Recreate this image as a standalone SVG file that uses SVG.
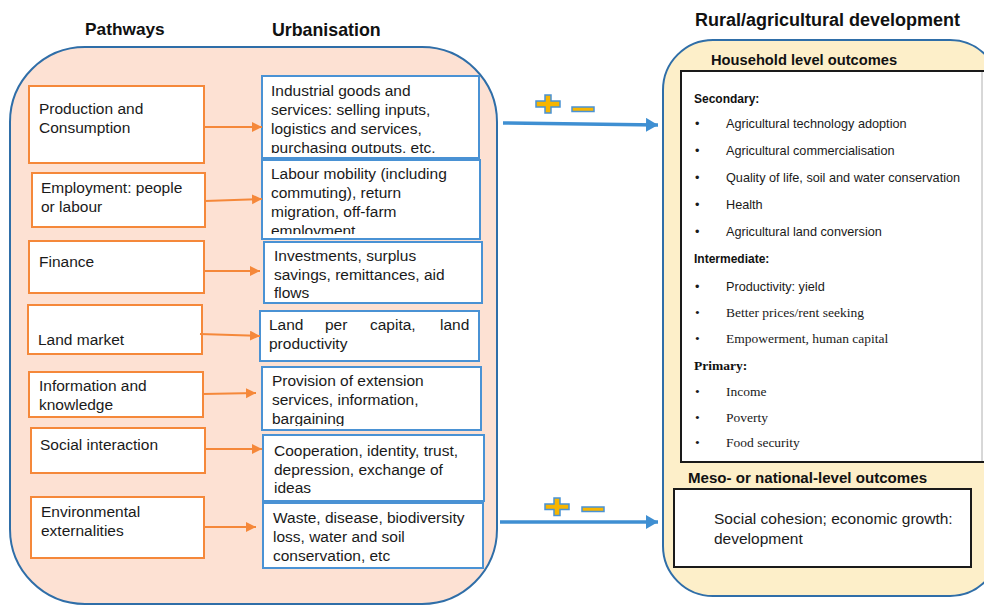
<svg xmlns="http://www.w3.org/2000/svg" width="984" height="606" viewBox="0 0 984 606">
<defs>
<style>
.hd{font-family:"Liberation Sans",Arial,sans-serif;font-weight:bold;fill:#111;}
.t{font-family:"Liberation Sans",Arial,sans-serif;font-size:15.5px;fill:#1a1a1a;}
.s{font-family:"Liberation Sans",Arial,sans-serif;font-size:12.7px;fill:#1a1a1a;}
.sb{font-family:"Liberation Sans",Arial,sans-serif;font-size:12px;font-weight:bold;fill:#111;}
.r{font-family:"Liberation Serif","Times New Roman",serif;font-size:13.5px;fill:#1a1a1a;}
.rb{font-family:"Liberation Serif","Times New Roman",serif;font-size:13.5px;font-weight:bold;fill:#111;}
.ob{fill:#fff;stroke:#f5883a;stroke-width:2;}
.bb{fill:#fff;stroke:#4a92d4;stroke-width:2;}
.oc{stroke:#f5883a;stroke-width:2;fill:none;}
.bc{stroke:#3f8fd2;stroke-width:3.5;fill:none;}
.pm{fill:#f7b500;stroke:#4a92d4;stroke-width:1.5;}
</style>
<marker id="oa" markerUnits="userSpaceOnUse" markerWidth="11" markerHeight="11" refX="10" refY="5" orient="auto">
<path d="M0,0 L10,5 L0,10 z" fill="#f5883a"/>
</marker>
<marker id="ba" markerUnits="userSpaceOnUse" markerWidth="13" markerHeight="15" refX="12" refY="7" orient="auto">
<path d="M0,0 L12,7 L0,14 z" fill="#3f8fd2"/>
</marker>
<clipPath id="c1"><rect x="263" y="77" width="215" height="76"/></clipPath>
<clipPath id="c2"><rect x="263" y="161" width="216" height="73"/></clipPath>
<clipPath id="c5"><rect x="263" y="368" width="217" height="58"/></clipPath>
</defs>

<rect width="984" height="606" fill="#fff"/>

<g id="headings">
<text class="hd" x="85" y="35" font-size="17.3px">Pathways</text>
<text class="hd" x="272" y="36" font-size="17.8px">Urbanisation</text>
<text class="hd" x="695" y="26" font-size="18px">Rural/agricultural development</text>
</g>

<g id="urban-panel">
<rect x="10" y="47" width="487" height="557" rx="75" ry="75" fill="#fde1d3" stroke="#2f6ea8" stroke-width="2"/>
</g>

<g id="rural-panel">
<rect x="663" y="40" width="337" height="556" rx="50" ry="50" fill="#fdefc9" stroke="#2f6ea8" stroke-width="2"/>
<text class="hd" x="711" y="65" font-size="14.7px">Household level outcomes</text>
<text class="hd" x="688" y="483" font-size="15.1px">Meso- or national-level outcomes</text>
</g>

<g id="p1">
<rect class="ob" x="29" y="86" width="175" height="77"/>
<text class="t" x="39" y="114">Production and</text>
<text class="t" x="39" y="133">Consumption</text>
</g>
<g id="p2">
<rect class="ob" x="32" y="173" width="173" height="54"/>
<text class="t" x="41" y="193">Employment: people</text>
<text class="t" x="41" y="212">or labour</text>
</g>
<g id="p3">
<rect class="ob" x="29" y="241" width="175" height="52"/>
<text class="t" x="39" y="267">Finance</text>
</g>
<g id="p4">
<rect class="ob" x="28" y="305" width="174" height="49"/>
<text class="t" x="38" y="345">Land market</text>
</g>
<g id="p5">
<rect class="ob" x="29" y="372" width="174" height="45"/>
<text class="t" x="39" y="391">Information and</text>
<text class="t" x="39" y="410">knowledge</text>
</g>
<g id="p6">
<rect class="ob" x="31" y="428" width="174" height="45"/>
<text class="t" x="40" y="450">Social interaction</text>
</g>
<g id="p7">
<rect class="ob" x="31" y="497" width="173" height="61"/>
<text class="t" x="41" y="517">Environmental</text>
<text class="t" x="41" y="536">externalities</text>
</g>

<g id="u1">
<rect class="bb" x="262" y="76" width="217" height="82"/>
<g clip-path="url(#c1)">
<text class="t" x="271" y="96">Industrial goods and</text>
<text class="t" x="271" y="115">services: selling inputs,</text>
<text class="t" x="271" y="134">logistics and services,</text>
<text class="t" x="271" y="153">purchasing outputs, etc.</text>
</g>
</g>
<g id="u2">
<rect class="bb" x="262" y="160" width="218" height="79"/>
<g clip-path="url(#c2)">
<text class="t" x="271" y="179">Labour mobility (including</text>
<text class="t" x="271" y="198">commuting), return</text>
<text class="t" x="271" y="216.5">migration, off-farm</text>
<text class="t" x="271" y="235.5">employment</text>
</g>
</g>
<g id="u3">
<rect class="bb" x="264" y="242" width="218" height="61"/>
<text class="t" x="274" y="261">Investments, surplus</text>
<text class="t" x="274" y="280">savings, remittances, aid</text>
<text class="t" x="274" y="298">flows</text>
</g>
<g id="u4">
<rect class="bb" x="260" y="311" width="219" height="50"/>
<text class="t" y="330"><tspan x="269">Land</tspan><tspan x="325">per</tspan><tspan x="370">capita,</tspan><tspan x="440">land</tspan></text>
<text class="t" x="269" y="349">productivity</text>
</g>
<g id="u5">
<rect class="bb" x="262" y="367" width="219" height="63"/>
<g clip-path="url(#c5)">
<text class="t" x="272" y="386">Provision of extension</text>
<text class="t" x="272" y="405">services, information,</text>
<text class="t" x="272" y="424">bargaining</text>
</g>
</g>
<g id="u6">
<rect class="bb" x="263" y="435" width="221" height="66"/>
<text class="t" x="274" y="456">Cooperation, identity, trust,</text>
<text class="t" x="274" y="475">depression, exchange of</text>
<text class="t" x="274" y="493">ideas</text>
</g>
<g id="u7">
<rect class="bb" x="263" y="503" width="220" height="65"/>
<text class="t" x="273" y="523">Waste, disease, biodiversity</text>
<text class="t" x="273" y="542">loss, water and soil</text>
<text class="t" x="273" y="561">conservation, etc</text>
</g>

<g id="household">
<rect x="681" y="71" width="320" height="391" fill="#fff" stroke="#1a1a1a" stroke-width="2"/>
<line x1="982" y1="72" x2="982" y2="461" stroke="#b0b0b0" stroke-width="1"/>
<text class="sb" x="694" y="103">Secondary:</text>
<g class="s">
<text x="695" y="128">•</text><text x="726" y="128">Agricultural technology adoption</text>
<text x="695" y="155">•</text><text x="726" y="155">Agricultural commercialisation</text>
<text x="695" y="182">•</text><text x="726" y="182">Quality of life, soil and water conservation</text>
<text x="695" y="209">•</text><text x="726" y="209">Health</text>
<text x="695" y="236">•</text><text x="726" y="236">Agricultural land conversion</text>
</g>
<text class="sb" x="694" y="263">Intermediate:</text>
<text class="s" x="695" y="291">•</text><text class="s" x="726" y="291">Productivity: yield</text>
<text class="r" x="695" y="317">•</text><text class="r" x="726" y="317">Better prices/rent seeking</text>
<text class="r" x="695" y="343">•</text><text class="r" x="726" y="343">Empowerment, human capital</text>
<text class="rb" x="694" y="370">Primary:</text>
<text class="r" x="695" y="396">•</text><text class="r" x="726" y="396">Income</text>
<text class="r" x="695" y="422">•</text><text class="r" x="726" y="422">Poverty</text>
<text class="r" x="695" y="447">•</text><text class="r" x="726" y="447">Food security</text>
</g>

<g id="meso">
<rect x="674" y="489" width="297" height="78" fill="#fff" stroke="#1a1a1a" stroke-width="2"/>
<text class="t" x="714" y="524" font-size="16px">Social cohesion; economic growth:</text>
<text class="t" x="714" y="544" font-size="16px">development</text>
</g>

<g id="connectors">
<line class="oc" x1="204" y1="127" x2="262" y2="127" marker-end="url(#oa)"/>
<line class="oc" x1="205" y1="201" x2="262" y2="199" marker-end="url(#oa)"/>
<line class="oc" x1="204" y1="271" x2="260" y2="271" marker-end="url(#oa)"/>
<line class="oc" x1="200" y1="334" x2="260" y2="336" marker-end="url(#oa)"/>
<line class="oc" x1="203" y1="394" x2="256" y2="393" marker-end="url(#oa)"/>
<line class="oc" x1="205" y1="449" x2="262" y2="449" marker-end="url(#oa)"/>
<line class="oc" x1="204" y1="527" x2="256" y2="527" marker-end="url(#oa)"/>
<line class="bc" x1="503" y1="123" x2="658" y2="125" marker-end="url(#ba)"/>
<line class="bc" x1="500" y1="522" x2="658" y2="522" marker-end="url(#ba)"/>
<path class="pm" d="M545,95 h6 v6 h9 v6 h-9 v6 h-6 v-6 h-9 v-6 h9 z"/>
<rect class="pm" x="572" y="107" width="22" height="4.5"/>
<path class="pm" d="M554,498 h6 v6 h9 v5.5 h-9 v6 h-6 v-6 h-9 v-5.5 h9 z"/>
<rect class="pm" x="582" y="507" width="22" height="4.5"/>
</g>
</svg>
